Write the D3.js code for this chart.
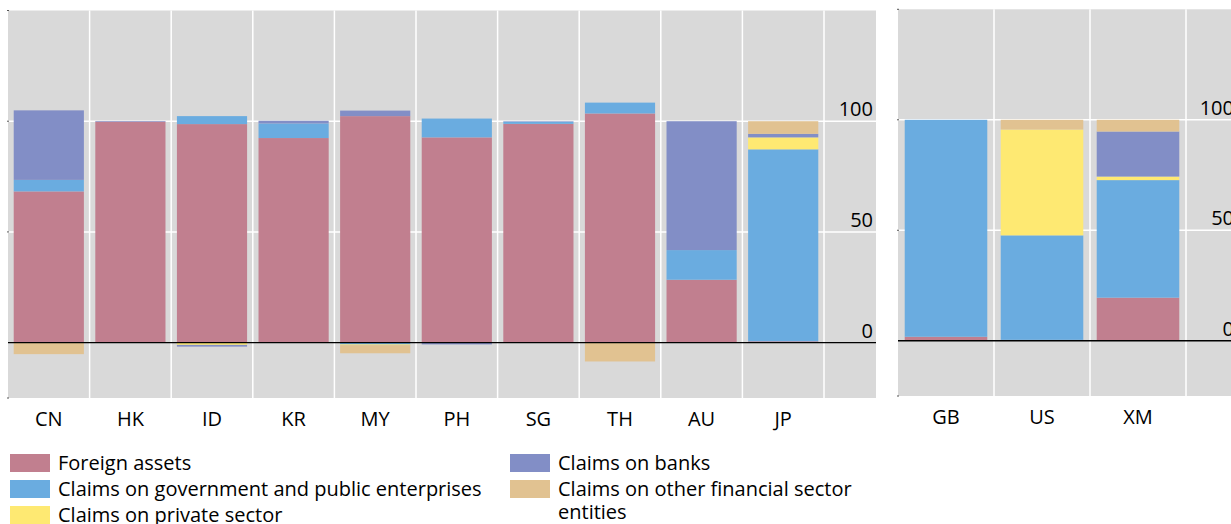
<!DOCTYPE html>
<html>
<head>
<meta charset="utf-8">
<script src="https://cdn.jsdelivr.net/npm/d3@7"></script>
<style>
  body { margin: 0; background: #fff; }
  svg text { font-family: "Open Sans", "Noto Sans", sans-serif; fill: #000; }
</style>
</head>
<body>
<script>
// categories per panel
var leftCategories = ["CN", "HK", "ID", "KR", "MY", "PH", "SG", "TH", "AU", "JP"];
var rightCategories = ["GB", "US", "XM"];
var allCategories = leftCategories.concat(rightCategories);

var seriesNames = [
    "Foreign assets",
    "Claims on government and public enterprises",
    "Claims on private sector",
    "Claims on banks",
    "Claims on other financial sector entities"
];
var seriesColors = ["#c17f8f", "#6aace0", "#fee972", "#828ec6", "#e1c291"];

// values in the same order as allCategories
var foreignAssets = [68.3, 99.8, 98.7, 92.4, 102.3, 92.7, 98.8, 103.5, 28.4, 0.6, 1.8, 0.4, 19.5];
var claimsGov     = [5.2, 0, 3.6, 6.6, -0.8, 8.5, 1.0, 4.9, 13.4, 86.7, 98.2, 47.3, 53.2];
var claimsPrivate = [0, 0, -1.0, 0, -0.3, 0, 0, 0, 0, 5.4, 0, 47.9, 1.6];
var claimsBanks   = [31.4, 0.3, -0.8, 1.2, 2.5, -0.8, 0.2, 0, 58.2, 1.6, 0, 0, 20.4];
var claimsOther   = [-5.2, 0, 0, 0, -3.7, 0, 0, -8.5, 0, 5.7, 0, 4.4, 5.3];

var yTicks = [0, 50, 100];

var seriesValues = [foreignAssets, claimsGov, claimsPrivate, claimsBanks, claimsOther];
var keys = ["s0", "s1", "s2", "s3", "s4"];

var rows = allCategories.map(function(c, i) {
    var r = { cat: c };
    keys.forEach(function(k, j) { r[k] = seriesValues[j][i]; });
    return r;
});

var stacked = d3.stack().keys(keys).offset(d3.stackOffsetDiverging)(rows);

var svg = d3.select("body").append("svg")
    .attr("width", 1231)
    .attr("height", 524);

function drawPanel(cats, x0, step, plotRight, yTop, yBottom, labelX, labelY) {
    var x = d3.scaleBand()
        .domain(cats)
        .range([x0, x0 + step * cats.length])
        .paddingInner(0.14)
        .paddingOuter(0.07);
    var y = d3.scaleLinear().domain([-25, 150]).range([yBottom, yTop]);

    var g = svg.append("g");

    g.append("rect")
        .attr("x", x0)
        .attr("y", yTop)
        .attr("width", plotRight - x0)
        .attr("height", yBottom - yTop)
        .attr("fill", "#d9d9d9");

    // vertical grid at band edges
    var edges = d3.range(1, cats.length + 1).map(function(i) { return x0 + i * step; });
    g.selectAll("line.vgrid").data(edges).enter().append("line")
        .attr("x1", function(d) { return d; })
        .attr("x2", function(d) { return d; })
        .attr("y1", yTop)
        .attr("y2", yBottom)
        .attr("stroke", "#fff")
        .attr("stroke-width", 1.5);

    g.selectAll("line.hgrid").data([50, 100]).enter().append("line")
        .attr("x1", x0)
        .attr("x2", plotRight)
        .attr("y1", function(d) { return y(d); })
        .attr("y2", function(d) { return y(d); })
        .attr("stroke", "#fff")
        .attr("stroke-width", 1.5);

    // small left ticks
    g.selectAll("line.lt").data([-25, 50, 100, 150]).enter().append("line")
        .attr("x1", x0 - 1)
        .attr("x2", x0 + 1)
        .attr("y1", function(d) { return y(d); })
        .attr("y2", function(d) { return y(d); })
        .attr("stroke", "#555")
        .attr("stroke-width", 1);

    stacked.forEach(function(s, j) {
        var pts = s.filter(function(d) { return cats.indexOf(d.data.cat) >= 0; });
        g.selectAll("rect.s" + j).data(pts).enter().append("rect")
            .attr("x", function(d) { return x(d.data.cat); })
            .attr("width", x.bandwidth())
            .attr("y", function(d) { return y(Math.max(d[0], d[1])); })
            .attr("height", function(d) { return Math.abs(y(d[0]) - y(d[1])); })
            .attr("fill", seriesColors[j]);
    });

    g.append("line")
        .attr("x1", x0)
        .attr("x2", plotRight)
        .attr("y1", y(0))
        .attr("y2", y(0))
        .attr("stroke", "#000")
        .attr("stroke-width", 1.3);

    g.selectAll("text.ytick").data(yTicks).enter().append("text")
        .attr("x", labelX)
        .attr("y", function(d) { return y(d) - 5; })
        .attr("text-anchor", "end")
        .attr("font-size", 20)
        .text(function(d) { return d; });

    g.selectAll("text.xlab").data(cats).enter().append("text")
        .attr("x", function(d) { return x(d) + x.bandwidth() / 2; })
        .attr("y", labelY)
        .attr("text-anchor", "middle")
        .attr("font-size", 20)
        .text(function(d) { return d; });
}

drawPanel(leftCategories, 8, 81.6, 876, 10.5, 398, 873, 426);
drawPanel(rightCategories, 898, 96, 1240, 9.3, 396, 1234, 424);

// legend
var legendPos = [[10, 463], [10, 489], [10, 515], [510, 463], [510, 489]];
var legend = svg.selectAll("g.legend").data(seriesNames).enter().append("g")
    .attr("transform", function(d, i) { return "translate(" + legendPos[i][0] + "," + legendPos[i][1] + ")"; });
legend.append("rect")
    .attr("x", 0)
    .attr("y", -9)
    .attr("width", 40)
    .attr("height", 18)
    .attr("fill", function(d, i) { return seriesColors[i]; });
legend.append("text")
    .attr("x", 48)
    .attr("y", 7)
    .attr("font-size", 20)
    .text(function(d, i) { return i === 4 ? "Claims on other financial sector" : d; });
legend.filter(function(d, i) { return i === 4; }).append("text")
    .attr("x", 48)
    .attr("y", 30)
    .attr("font-size", 20)
    .text("entities");
</script>
</body>
</html>
